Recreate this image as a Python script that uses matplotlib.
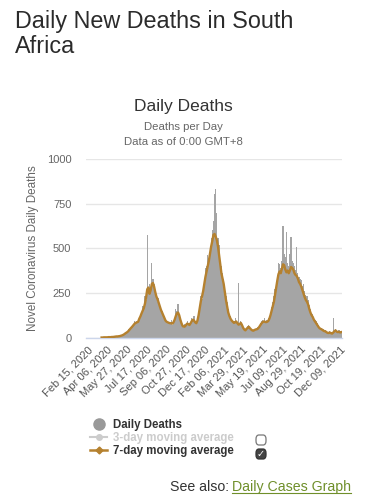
import numpy as np
import matplotlib
matplotlib.use("Agg")
import matplotlib.pyplot as plt
import matplotlib.dates as mdates
from matplotlib.lines import Line2D
from matplotlib.patches import FancyBboxPatch

plt.rcParams['font.family'] = ['Liberation Sans', 'DejaVu Sans']

# ---------------- data (3-day bins starting Feb 15, 2020) ----------------
start = np.datetime64('2020-02-15')
n_bins = 223
dates = start + np.arange(n_bins) * np.timedelta64(3, 'D')

daily_deaths = [
    0, 0, 0, 0, 0, 0, 0, 0, 0, 0, 0, 0,
    0, 1, 1, 2, 1, 3, 2, 3, 2, 4, 3, 5, 6, 8, 5, 9, 8, 12,
    14, 16, 22, 27, 30, 38, 45, 52, 60, 66, 75, 90, 78, 95, 85,
    112, 125, 140, 175, 160, 230, 210, 572, 280, 300, 280, 420, 330, 300, 260,
    240, 200, 220, 170, 160, 150, 120, 118, 90, 95, 82, 88, 75, 100, 70,
    95, 110, 160, 150, 185, 130, 110, 85, 70, 55, 75, 68, 90, 70, 80,
    75, 110, 105, 120, 80, 90, 100, 135, 170, 230, 215, 290, 320, 390, 400,
    460, 420, 480, 560, 600, 650, 804, 832, 700, 560, 520, 430, 400, 360, 330,
    280, 230, 200, 160, 130, 120, 100, 95, 90, 110, 85, 75, 306, 80, 95,
    70, 60, 50, 45, 55, 65, 70, 55, 45, 42, 40, 50, 48, 55, 60,
    65, 80, 90, 100, 95, 110, 95, 100, 110, 120, 140, 170, 200, 230, 270,
    310, 350, 420, 410, 390, 430, 624, 470, 450, 590, 420, 400, 470, 564, 430,
    420, 400, 380, 508, 360, 340, 330, 320, 290, 300, 260, 240, 230, 210, 180,
    160, 140, 130, 115, 100, 95, 80, 70, 60, 55, 52, 45, 42, 40, 35,
    30, 32, 35, 28, 25, 108, 40, 45, 38, 35, 40, 32, 36,
]

avg_7day = [
    np.nan, np.nan, np.nan, np.nan, np.nan, np.nan,
    np.nan, np.nan, np.nan, np.nan, np.nan, np.nan,
    0, 0, 1, 1, 1, 1, 2, 2, 2, 3, 3, 4, 5, 6, 6, 7, 8, 10,
    12, 15, 19, 24, 28, 33, 40, 48, 55, 62, 70, 78, 82, 85, 88,
    105, 118, 135, 150, 165, 190, 225, 270, 280, 245, 265, 300, 305, 285, 255,
    230, 215, 195, 175, 155, 140, 125, 110, 95, 88, 85, 82, 80, 80, 78,
    85, 100, 120, 135, 140, 125, 100, 80, 65, 60, 62, 70, 78, 75, 70,
    80, 92, 100, 95, 85, 80, 95, 125, 165, 205, 230, 260, 300, 340, 370,
    400, 430, 470, 510, 540, 575, 580, 565, 545, 510, 460, 410, 360, 330, 300,
    255, 210, 175, 140, 120, 105, 95, 88, 82, 85, 90, 80, 72, 75, 82,
    70, 55, 45, 40, 48, 55, 60, 52, 45, 40, 38, 42, 45, 46, 50,
    58, 68, 78, 85, 90, 88, 86, 88, 92, 105, 125, 150, 175, 200, 240,
    280, 320, 355, 370, 360, 385, 410, 405, 380, 365, 375, 360, 375, 395, 390,
    380, 360, 350, 345, 330, 310, 300, 285, 265, 245, 225, 210, 200, 185, 160,
    140, 125, 115, 100, 90, 80, 70, 60, 52, 48, 45, 40, 36, 35, 30,
    26, 25, 28, 24, 22, 28, 35, 40, 33, 30, 32, 28, 30,
]

# category ticks every 51 days
tick_dates = start + np.arange(14) * np.timedelta64(51, 'D')
y_ticks = [0, 250, 500, 750, 1000]

# ---------------- figure ----------------
W, H = 366, 504
fig = plt.figure(figsize=(W / 100, H / 100), dpi=100)
fig.patch.set_facecolor('white')

ax = fig.add_axes([86 / W, 1 - 337.5 / H, 256 / W, 178.5 / H])

ax.bar(dates, daily_deaths, width=3, color='#a5a5a5', edgecolor='none', zorder=2)
ax.plot(dates, avg_7day, color='#b5812f', linewidth=1.7, zorder=3)

ax.set_ylim(0, 1000)
ax.set_xlim(np.datetime64('2020-02-10'), np.datetime64('2021-12-14'))
ax.set_yticks(y_ticks)
ax.set_yticklabels([str(v) for v in y_ticks], fontsize=8, color='#666666')
ax.set_xticks(tick_dates)
ax.xaxis.set_major_formatter(mdates.DateFormatter('%b %d, %Y'))
plt.setp(ax.get_xticklabels(), rotation=45, ha='right', rotation_mode='anchor',
         fontsize=8, color='#555555')
ax.tick_params(axis='x', length=0, pad=5)
ax.tick_params(axis='y', length=0, pad=10.5)

ax.grid(axis='y', color='#e6e6e6', linewidth=1, zorder=0)
ax.set_axisbelow(True)
for s in ['top', 'right', 'left']:
    ax.spines[s].set_visible(False)
ax.spines['bottom'].set_color('#ccd6eb')
ax.spines['bottom'].set_linewidth(1)

ax.set_ylabel('Novel Coronavirus Daily Deaths', fontsize=8.4, color='#666666')
ax.yaxis.set_label_coords((39 - 86) / 256, 0.5)

# ---------------- titles ----------------
fig.text(15 / W, 1 - 28 / H, 'Daily New Deaths in South', ha='left', va='baseline',
         fontsize=16.8, color='#2b2b2b')
fig.text(15 / W, 1 - 53 / H, 'Africa', ha='left', va='baseline',
         fontsize=16.8, color='#2b2b2b')
fig.text(183 / W, 1 - 111 / H, 'Daily Deaths', ha='center', va='baseline',
         fontsize=12.5, color='#333333')
fig.text(183 / W, 1 - 130 / H, 'Deaths per Day', ha='center', va='baseline',
         fontsize=8.2, color='#666666')
fig.text(183 / W, 1 - 145 / H, 'Data as of 0:00 GMT+8', ha='center', va='baseline',
         fontsize=8.2, color='#666666')

# ---------------- legend ----------------
handles = [
    Line2D([], [], linestyle='none', marker='o', markersize=8, color='#999999'),
    Line2D([], [], color='#cccccc', linewidth=1.5, marker='o', markersize=4),
    Line2D([], [], color='#b5812f', linewidth=1.8, marker='D', markersize=3.5),
]
labels = ['Daily Deaths', '3-day moving average', '7-day moving average']
leg = fig.legend(handles, labels, loc='upper left', bbox_to_anchor=(90 / W, 1 - 419 / H),
                 frameon=False, handlelength=1.5, handletextpad=0.5, labelspacing=0.08,
                 borderaxespad=0, borderpad=0,
                 prop={'weight': 'bold', 'size': 8.3})
for txt, c in zip(leg.get_texts(), ['#333333', '#cccccc', '#333333']):
    txt.set_color(c)

# checkboxes
cb1 = FancyBboxPatch((256 / W, 1 - 445 / H), 10 / W, 10 / H, transform=fig.transFigure,
                     boxstyle='round,pad=0,rounding_size=0.008', facecolor='white',
                     edgecolor='#777777', linewidth=0.9)
cb2 = FancyBboxPatch((256 / W, 1 - 459 / H), 10 / W, 10 / H, transform=fig.transFigure,
                     boxstyle='round,pad=0,rounding_size=0.008', facecolor='#444444',
                     edgecolor='#333333', linewidth=0.9)
fig.patches.extend([cb1, cb2])
fig.text(261 / W, 1 - 454 / H, '\u2713', ha='center', va='center', fontsize=7,
         color='white', family=['DejaVu Sans'], fontweight='bold')

# ---------------- see also ----------------
link = fig.text(351 / W, 1 - 491 / H, 'Daily Cases Graph', ha='right', va='baseline',
                fontsize=10.2, color='#6f8f2a')
fig.canvas.draw()
bb = link.get_window_extent()
fig.text(bb.x0 / W - 3 / W, 1 - 491 / H, 'See also:', ha='right', va='baseline',
         fontsize=10.2, color='#333333')
uy = (bb.y0 + 1) / H
fig.add_artist(Line2D([bb.x0 / W, bb.x1 / W], [uy, uy], transform=fig.transFigure,
                      color='#6f8f2a', linewidth=0.8))

fig.savefig('out.png', dpi=100)
